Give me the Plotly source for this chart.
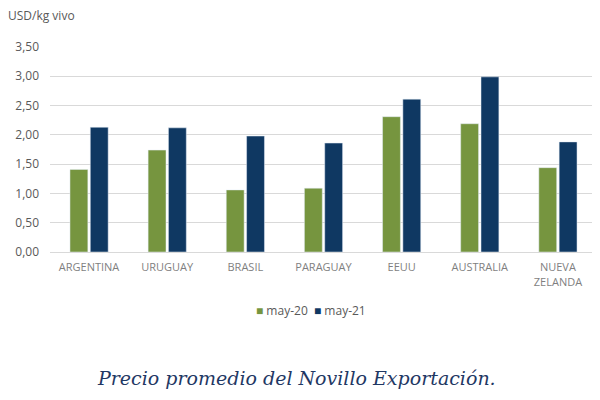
import plotly.graph_objects as go

# categories and values
paises = ["ARGENTINA", "URUGUAY", "BRASIL", "PARAGUAY", "EEUU", "AUSTRALIA", "NUEVA<br>ZELANDA"]
series = ["may-20", "may-21"]
may20 = [1.41, 1.74, 1.06, 1.09, 2.31, 2.19, 1.44]
may21 = [2.13, 2.12, 1.98, 1.86, 2.61, 2.99, 1.88]
yticks = [0, 0.5, 1.0, 1.5, 2.0, 2.5, 3.0, 3.5]

verde = "#76953F"
azul = "#0F3862"

fig = go.Figure()
fig.add_trace(go.Bar(x=paises, y=may20, name=series[0], marker_color=verde))
fig.add_trace(go.Bar(x=paises, y=may21, name=series[1], marker_color=azul))

# page body has an 8px margin, so the figure is 8px smaller on each side
fig.update_layout(
    width=592, height=392,
    margin=dict(l=42, r=3, t=39, b=148),
    paper_bgcolor="white", plot_bgcolor="white",
    separators=",.",
    barmode="group", bargap=0.48, bargroupgap=0.12,
    font=dict(family="Open Sans", color="#595959"),
    showlegend=False,
)
fig.update_yaxes(range=[0, 3.5], tickvals=yticks, tickformat=".2f", automargin=False,
                 showgrid=True, gridcolor="#D9D9D9", zeroline=False, ticklabelstandoff=10,
                 tickfont=dict(size=12, color="#595959"), ticks="", ticklen=0)
fig.update_xaxes(showline=True, linecolor="#D9D9D9", linewidth=1, automargin=False,
                 ticklabelstandoff=5,
                 tickfont=dict(size=11, color="#7F7F7F"), ticks="")

# compact Excel-style legend
leyenda = "&nbsp;&nbsp;".join(
    f'<span style="color:{c}">■</span> {s}' for c, s in zip([verde, azul], series)
)
fig.add_annotation(text=leyenda, xref="paper", yref="paper", x=0.477, y=-0.283,
                   xanchor="center", yanchor="middle", showarrow=False,
                   font=dict(size=12, color="#595959"))

fig.add_annotation(text="USD/kg vivo", xref="paper", yref="paper", x=-0.08, y=1.156,
                   xanchor="left", yanchor="middle", showarrow=False,
                   font=dict(size=12, color="#595959"))
fig.add_annotation(text="<i>Precio promedio del Novillo Exportación.</i>", xref="paper", yref="paper",
                   x=0.45, y=-0.615, xanchor="center", yanchor="middle", showarrow=False,
                   font=dict(family="DejaVu Serif", size=19, color="#1F3864"))

fig.write_html("out.html")
